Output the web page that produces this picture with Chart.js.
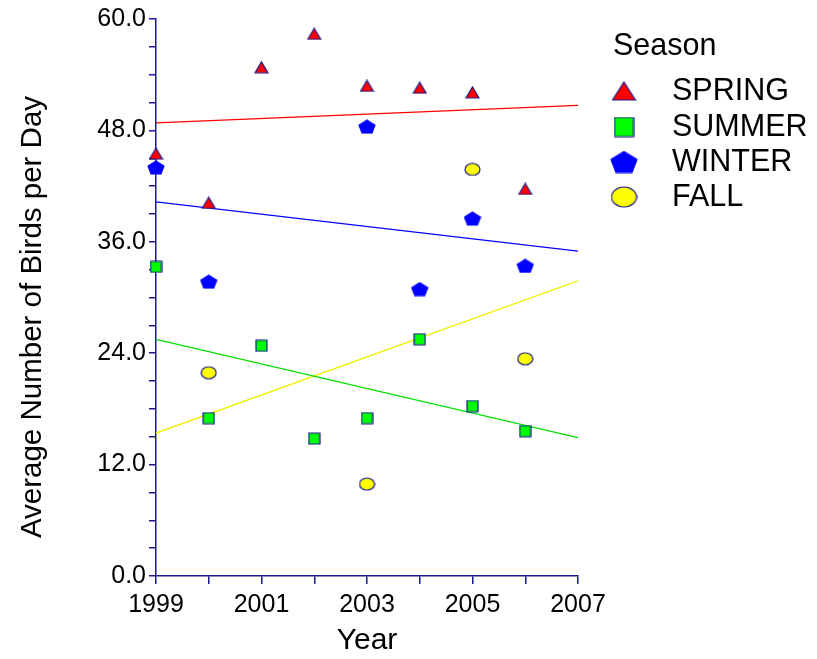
<!DOCTYPE html>
<html>
<head>
<meta charset="utf-8">
<script src="https://cdn.jsdelivr.net/npm/chart.js@4"></script>
<style>
  html, body { margin: 0; padding: 0; background: #fff; }
  #wrap { width: 817px; height: 659px; position: relative; }
</style>
</head>
<body>
<div id="wrap"><canvas id="birdChart" width="817" height="659"></canvas></div>
<script>
// data
const years = [1999, 2000, 2001, 2002, 2003, 2004, 2005, 2006];
const spring = [45.5, 40.2, 54.8, 58.4, 52.8, 52.6, 52.1, 41.7];
const summer = [33.3, 17.0, 24.8, 14.8, 17.0, 25.5, 18.3, 15.6];
const winterYears = [1999, 2000, 2003, 2004, 2005, 2006];
const winter = [44.0, 31.7, 48.4, 30.9, 38.5, 33.4];
const fallYears = [2000, 2003, 2005, 2006];
const fall = [21.9, 9.9, 43.8, 23.4];

// trend lines, ends
const fitYears = [1999, 2007];
const springFit = [48.8, 50.7];
const summerFit = [25.5, 14.9];
const winterFit = [40.3, 35.0];
const fallFit = [15.4, 31.8];

const seasons = ['SPRING', 'SUMMER', 'WINTER', 'FALL'];
const navy = '#1a1a8c';
const font = "'Liberation Sans', Arial, sans-serif";

function pts(xs, ys) {
  return xs.map((x, i) => ({ x: x, y: ys[i] }));
}

// little canvases used as point styles
function makeMarker(shape, w, h, fill, stroke) {
  const c = document.createElement('canvas');
  c.width = w + 2;
  c.height = h + 2;
  const g = c.getContext('2d');
  g.fillStyle = fill;
  g.strokeStyle = stroke;
  g.lineWidth = 1.2;
  g.beginPath();
  const cx = c.width / 2, cy = c.height / 2;
  if (shape === 'triangle') {
    g.moveTo(cx, 1);
    g.lineTo(w + 1, h + 1);
    g.lineTo(1, h + 1);
    g.closePath();
  } else if (shape === 'square') {
    g.rect(1, 1, w, h);
  } else if (shape === 'pentagon') {
    for (let i = 0; i < 5; i++) {
      const a = -Math.PI / 2 + i * 2 * Math.PI / 5;
      const px = cx + (w / 2) * Math.cos(a) / Math.cos(Math.PI / 10);
      const py = 1 + (h / 1.809) * (1 + Math.sin(a));
      if (i === 0) g.moveTo(px, py); else g.lineTo(px, py);
    }
    g.closePath();
  } else {
    g.ellipse(cx, cy, w / 2, h / 2, 0, 0, Math.PI * 2);
  }
  g.fill();
  g.stroke();
  return c;
}

const marks = {
  SPRING: makeMarker('triangle', 13, 11, '#ff0000', navy),
  SUMMER: makeMarker('square', 11, 11, '#00ff00', navy),
  WINTER: makeMarker('pentagon', 16, 13, '#0000ff', '#0000ff'),
  FALL: makeMarker('ellipse', 15, 12, '#ffff00', navy)
};
const legendMarks = {
  SPRING: makeMarker('triangle', 23, 18, '#ff0000', navy),
  SUMMER: makeMarker('square', 19, 19, '#00ff00', navy),
  WINTER: makeMarker('pentagon', 26, 21, '#0000ff', '#0000ff'),
  FALL: makeMarker('ellipse', 25, 20, '#ffff00', navy)
};

function scatterSet(label, data) {
  return {
    label: label,
    type: 'scatter',
    data: data,
    pointStyle: marks[label],
    pointRadius: 8,
    clip: false,
    order: 1
  };
}

function fitSet(label, ys, color) {
  return {
    label: label + ' fit',
    type: 'line',
    data: pts(fitYears, ys),
    borderColor: color,
    borderWidth: 1.3,
    pointRadius: 0,
    fill: false,
    order: 2
  };
}

// legend on the right and the y title, drawn by hand
const legendPlugin = {
  id: 'seasonLegend',
  afterDraw(chart) {
    const c = chart.ctx;
    c.save();
    c.fillStyle = '#000';
    c.textBaseline = 'middle';
    c.font = '30.5px ' + font;
    c.fillText('Season', 613, 47);
    const rows = [91, 127, 162, 197];
    seasons.forEach((s, i) => {
      const m = legendMarks[s];
      c.drawImage(m, 624 - m.width / 2, rows[i] - m.height / 2);
      c.fillStyle = '#000';
      c.fillText(s, 672, rows[i] + 1);
    });

    c.translate(33, 317);
    c.rotate(-Math.PI / 2);
    c.textAlign = 'center';
    c.font = '29.5px ' + font;
    c.fillText('Average Number of Birds per Day', 0, 0);
    c.restore();
  }
};

const ctx = document.getElementById('birdChart');
new Chart(ctx, {
  data: {
    datasets: [
      fitSet('SPRING', springFit, '#ff0000'),
      fitSet('SUMMER', summerFit, '#00e000'),
      fitSet('WINTER', winterFit, '#0000ff'),
      fitSet('FALL', fallFit, '#f0f000'),
      scatterSet('SPRING', pts(years, spring)),
      scatterSet('SUMMER', pts(years, summer)),
      scatterSet('WINTER', pts(winterYears, winter)),
      scatterSet('FALL', pts(fallYears, fall))
    ]
  },
  options: {
    responsive: false,
    animation: false,
    layout: { padding: { top: 19, right: 239, left: 0, bottom: 0 } },
    plugins: {
      legend: { display: false },
      tooltip: { enabled: false }
    },
    scales: {
      x: {
        type: 'linear',
        min: 1999,
        max: 2007,
        afterFit: (s) => { s.height = 83; },
        border: { color: navy, width: 1.5 },
        grid: { drawOnChartArea: false, color: navy, lineWidth: 1.5, tickLength: 8 },
        ticks: {
          stepSize: 1,
          autoSkip: false,
          maxRotation: 0,
          color: '#000',
          padding: 6,
          font: { family: font, size: 25 },
          callback: (v) => (v % 2 === 1 ? String(v) : '')
        },
        title: {
          display: true,
          text: 'Year',
          color: '#000',
          font: { family: font, size: 30 },
          padding: { top: 0, bottom: 0 }
        }
      },
      y: {
        min: 0,
        max: 60,
        afterFit: (s) => { s.width = 156; },
        border: { color: navy, width: 1.5 },
        grid: { drawOnChartArea: false, color: navy, lineWidth: 1.5, tickLength: 7 },
        ticks: {
          stepSize: 3,
          autoSkip: false,
          color: '#000',
          padding: 3,
          font: { family: font, size: 25 },
          callback: (v) => (v % 12 === 0 ? v.toFixed(1) : '')
        }
      }
    }
  },
  plugins: [legendPlugin]
});
</script>
</body>
</html>
